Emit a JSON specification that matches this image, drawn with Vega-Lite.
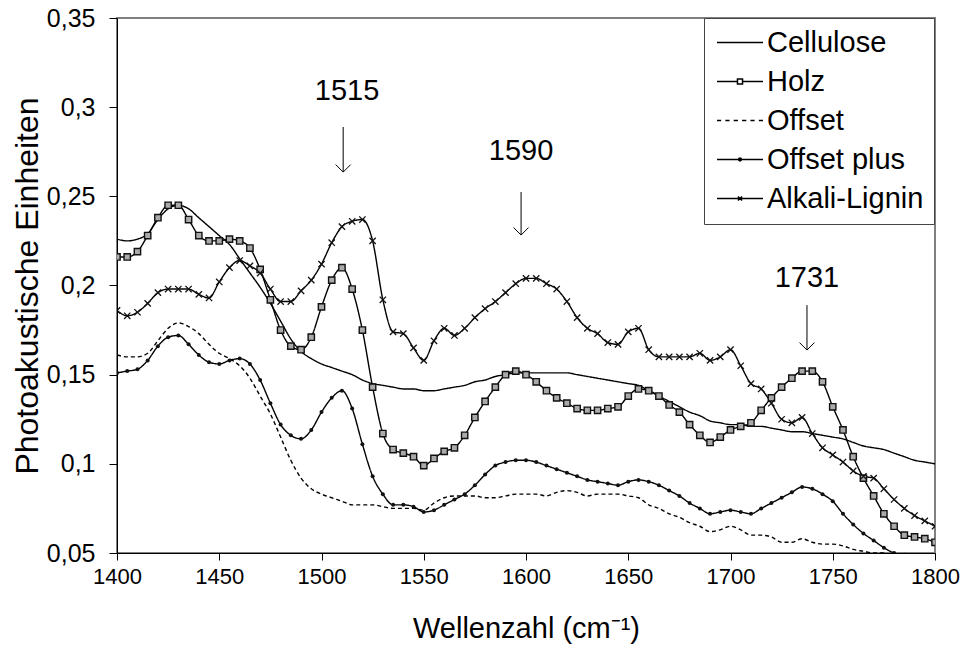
{
  "$schema": "https://vega.github.io/schema/vega-lite/v6.json",
  "width": 818,
  "height": 535,
  "autosize": {"type": "none"},
  "padding": {"left": 117, "top": 18, "right": 32, "bottom": 97},
  "background": "white",
  "config": {
    "font": "Liberation Sans",
    "view": {"stroke": "#808080", "strokeWidth": 2},
    "axis": {"grid": false, "domainColor": "black", "tickColor": "black", "labelColor": "black", "titleColor": "black", "titleFontWeight": "normal", "labelFont": "Liberation Sans", "titleFont": "Liberation Sans"}
  },
  "datasets": {
    "spec": [
      {"w":1400,"C":0.226,"H":0.216,"O":0.161,"P":0.151,"A":0.186},
      {"w":1405,"C":0.225,"H":0.216,"O":0.160,"P":0.152,"A":0.183},
      {"w":1410,"C":0.226,"H":0.219,"O":0.160,"P":0.153,"A":0.185},
      {"w":1415,"C":0.229,"H":0.228,"O":0.162,"P":0.158,"A":0.190},
      {"w":1420,"C":0.237,"H":0.238,"O":0.169,"P":0.166,"A":0.196},
      {"w":1425,"C":0.243,"H":0.245,"O":0.176,"P":0.171,"A":0.198},
      {"w":1430,"C":0.245,"H":0.245,"O":0.179,"P":0.172,"A":0.198},
      {"w":1435,"C":0.243,"H":0.237,"O":0.177,"P":0.167,"A":0.198},
      {"w":1440,"C":0.238,"H":0.228,"O":0.173,"P":0.161,"A":0.195},
      {"w":1445,"C":0.233,"H":0.225,"O":0.167,"P":0.157,"A":0.193},
      {"w":1450,"C":0.228,"H":0.225,"O":0.162,"P":0.156,"A":0.202},
      {"w":1455,"C":0.223,"H":0.226,"O":0.159,"P":0.158,"A":0.210},
      {"w":1460,"C":0.215,"H":0.225,"O":0.155,"P":0.159,"A":0.214},
      {"w":1465,"C":0.207,"H":0.221,"O":0.148,"P":0.156,"A":0.211},
      {"w":1470,"C":0.199,"H":0.209,"O":0.138,"P":0.147,"A":0.207},
      {"w":1475,"C":0.190,"H":0.192,"O":0.128,"P":0.134,"A":0.198},
      {"w":1480,"C":0.180,"H":0.175,"O":0.115,"P":0.122,"A":0.191},
      {"w":1485,"C":0.170,"H":0.166,"O":0.102,"P":0.116,"A":0.191},
      {"w":1490,"C":0.163,"H":0.164,"O":0.092,"P":0.114,"A":0.197},
      {"w":1495,"C":0.159,"H":0.171,"O":0.086,"P":0.119,"A":0.203},
      {"w":1500,"C":0.156,"H":0.188,"O":0.083,"P":0.129,"A":0.212},
      {"w":1505,"C":0.154,"H":0.203,"O":0.081,"P":0.137,"A":0.224},
      {"w":1510,"C":0.152,"H":0.210,"O":0.079,"P":0.141,"A":0.233},
      {"w":1515,"C":0.150,"H":0.198,"O":0.077,"P":0.131,"A":0.236},
      {"w":1520,"C":0.147,"H":0.175,"O":0.077,"P":0.111,"A":0.237},
      {"w":1525,"C":0.145,"H":0.143,"O":0.077,"P":0.093,"A":0.225},
      {"w":1530,"C":0.144,"H":0.117,"O":0.076,"P":0.083,"A":0.192},
      {"w":1535,"C":0.143,"H":0.108,"O":0.075,"P":0.077,"A":0.174},
      {"w":1540,"C":0.142,"H":0.106,"O":0.075,"P":0.077,"A":0.173},
      {"w":1545,"C":0.142,"H":0.104,"O":0.075,"P":0.076,"A":0.165},
      {"w":1550,"C":0.141,"H":0.099,"O":0.074,"P":0.073,"A":0.158},
      {"w":1555,"C":0.141,"H":0.103,"O":0.078,"P":0.074,"A":0.169},
      {"w":1560,"C":0.142,"H":0.107,"O":0.081,"P":0.077,"A":0.176},
      {"w":1565,"C":0.143,"H":0.109,"O":0.082,"P":0.080,"A":0.172},
      {"w":1570,"C":0.144,"H":0.116,"O":0.082,"P":0.083,"A":0.176},
      {"w":1575,"C":0.146,"H":0.126,"O":0.082,"P":0.088,"A":0.182},
      {"w":1580,"C":0.147,"H":0.135,"O":0.081,"P":0.094,"A":0.187},
      {"w":1585,"C":0.149,"H":0.143,"O":0.081,"P":0.099,"A":0.191},
      {"w":1590,"C":0.150,"H":0.150,"O":0.082,"P":0.101,"A":0.196},
      {"w":1595,"C":0.151,"H":0.152,"O":0.083,"P":0.102,"A":0.201},
      {"w":1600,"C":0.151,"H":0.150,"O":0.083,"P":0.102,"A":0.204},
      {"w":1605,"C":0.151,"H":0.146,"O":0.083,"P":0.101,"A":0.204},
      {"w":1610,"C":0.151,"H":0.141,"O":0.082,"P":0.099,"A":0.201},
      {"w":1615,"C":0.151,"H":0.137,"O":0.084,"P":0.097,"A":0.198},
      {"w":1620,"C":0.151,"H":0.134,"O":0.085,"P":0.095,"A":0.191},
      {"w":1625,"C":0.150,"H":0.131,"O":0.084,"P":0.093,"A":0.182},
      {"w":1630,"C":0.149,"H":0.130,"O":0.082,"P":0.091,"A":0.176},
      {"w":1635,"C":0.148,"H":0.130,"O":0.083,"P":0.090,"A":0.173},
      {"w":1640,"C":0.147,"H":0.131,"O":0.083,"P":0.089,"A":0.168},
      {"w":1645,"C":0.146,"H":0.132,"O":0.083,"P":0.088,"A":0.167},
      {"w":1650,"C":0.145,"H":0.138,"O":0.082,"P":0.090,"A":0.174},
      {"w":1655,"C":0.144,"H":0.142,"O":0.081,"P":0.091,"A":0.176},
      {"w":1660,"C":0.141,"H":0.141,"O":0.077,"P":0.090,"A":0.164},
      {"w":1665,"C":0.138,"H":0.138,"O":0.075,"P":0.088,"A":0.160},
      {"w":1670,"C":0.135,"H":0.133,"O":0.072,"P":0.085,"A":0.160},
      {"w":1675,"C":0.132,"H":0.129,"O":0.070,"P":0.082,"A":0.160},
      {"w":1680,"C":0.129,"H":0.122,"O":0.067,"P":0.078,"A":0.160},
      {"w":1685,"C":0.127,"H":0.116,"O":0.065,"P":0.075,"A":0.162},
      {"w":1690,"C":0.124,"H":0.112,"O":0.062,"P":0.072,"A":0.158},
      {"w":1695,"C":0.123,"H":0.115,"O":0.063,"P":0.073,"A":0.160},
      {"w":1700,"C":0.122,"H":0.119,"O":0.065,"P":0.074,"A":0.164},
      {"w":1705,"C":0.122,"H":0.121,"O":0.063,"P":0.073,"A":0.155},
      {"w":1710,"C":0.121,"H":0.123,"O":0.060,"P":0.072,"A":0.145},
      {"w":1715,"C":0.121,"H":0.130,"O":0.060,"P":0.075,"A":0.142},
      {"w":1720,"C":0.120,"H":0.137,"O":0.059,"P":0.078,"A":0.134},
      {"w":1725,"C":0.119,"H":0.143,"O":0.056,"P":0.081,"A":0.125},
      {"w":1730,"C":0.118,"H":0.148,"O":0.056,"P":0.084,"A":0.123},
      {"w":1735,"C":0.118,"H":0.152,"O":0.058,"P":0.087,"A":0.126},
      {"w":1740,"C":0.117,"H":0.152,"O":0.056,"P":0.086,"A":0.117},
      {"w":1745,"C":0.116,"H":0.146,"O":0.055,"P":0.083,"A":0.109},
      {"w":1750,"C":0.115,"H":0.132,"O":0.055,"P":0.079,"A":0.105},
      {"w":1755,"C":0.114,"H":0.119,"O":0.054,"P":0.072,"A":0.101},
      {"w":1760,"C":0.112,"H":0.104,"O":0.052,"P":0.066,"A":0.096},
      {"w":1765,"C":0.110,"H":0.092,"O":0.051,"P":0.061,"A":0.093},
      {"w":1770,"C":0.109,"H":0.082,"O":0.050,"P":0.057,"A":0.092},
      {"w":1775,"C":0.108,"H":0.072,"O":0.050,"P":0.053,"A":0.086},
      {"w":1780,"C":0.106,"H":0.065,"O":0.049,"P":0.050,"A":0.080},
      {"w":1785,"C":0.104,"H":0.060,"O":0.049,"P":0.049,"A":0.075},
      {"w":1790,"C":0.102,"H":0.059,"O":0.049,"P":0.048,"A":0.071},
      {"w":1795,"C":0.101,"H":0.058,"O":0.049,"P":0.048,"A":0.068},
      {"w":1800,"C":0.100,"H":0.056,"O":0.049,"P":0.048,"A":0.065}
    ],
    "arrows": [
      {"w":1510.6,"v":0.2636,"v2":0.2889},
      {"w":1597.6,"v":0.2283,"v2":0.2524},
      {"w":1737.4,"v":0.1638,"v2":0.189}
    ],
    "labels": [
      {"w":1512.5,"v":0.304,"label":"1515"},
      {"w":1597.6,"v":0.2703,"label":"1590"},
      {"w":1737.4,"v":0.1991,"label":"1731"}
    ],
    "legend": [
      {"s":"Cellulose"},{"s":"Holz"},{"s":"Offset"},{"s":"Offset plus"},{"s":"Alkali-Lignin"}
    ]
  },
  "encoding": {
    "x": {"field": "w", "type": "quantitative",
      "scale": {"domain": [1400, 1800], "nice": false, "zero": false},
      "axis": {"values": [1400,1450,1500,1550,1600,1650,1700,1750,1800], "format": "d", "labelFontSize": 22, "labelPadding": 6, "tickSize": 7, "labelFlush": false,
        "title": "Wellenzahl (cm⁻¹)", "titleFontSize": 29, "titleY": 84, "titleBaseline": "alphabetic"}},
    "y": {"field": "v", "type": "quantitative",
      "scale": {"domain": [0.05, 0.35], "nice": false, "zero": false},
      "axis": {"values": [0.05,0.1,0.15,0.2,0.25,0.3,0.35], "labelExpr": "replace(format(datum.value,'.2~f'),'.',',')", "labelFontSize": 25, "labelPadding": 14, "tickSize": 8,
        "title": "Photoakustische Einheiten", "titleFontSize": 32, "titleX": -80, "titleBaseline": "alphabetic"}}
  },
  "layer": [
    {
      "data": {"name": "spec"},
      "transform": [{"fold": ["C","H","O","P","A"], "as": ["s","v"]}],
      "mark": {"type": "line", "interpolate": "monotone", "clip": true, "color": "black", "strokeWidth": 1.4},
      "encoding": {
        "detail": {"field": "s", "type": "nominal"},
        "strokeDash": {"field": "s", "type": "nominal", "legend": null,
          "scale": {"domain": ["C","H","O","P","A"], "range": [[1,0],[1,0],[4,3],[1,0],[1,0]]}}
      }
    },
    {
      "data": {"name": "spec"},
      "transform": [{"fold": ["H"], "as": ["s","v"]}],
      "mark": {"type": "point", "shape": "square", "size": 40, "filled": false, "fill": "#aaaaaa", "fillOpacity": 1, "stroke": "#111111", "strokeWidth": 1.4, "opacity": 1, "clip": true}
    },
    {
      "data": {"name": "spec"},
      "transform": [{"fold": ["P"], "as": ["s","v"]}],
      "mark": {"type": "point", "shape": "circle", "size": 16, "filled": true, "color": "#111111", "opacity": 1, "clip": true}
    },
    {
      "data": {"name": "spec"},
      "transform": [{"fold": ["A"], "as": ["s","v"]}],
      "mark": {"type": "point", "shape": "M-1,-1L1,1M-1,1L1,-1", "size": 40, "filled": false, "stroke": "#111111", "strokeWidth": 1.3, "opacity": 1, "clip": true}
    },
    {
      "data": {"name": "arrows"},
      "mark": {"type": "rule", "color": "black", "strokeWidth": 1},
      "encoding": {"y2": {"field": "v2"}}
    },
    {
      "data": {"name": "arrows"},
      "mark": {"type": "point", "shape": "M-1,-1L0,0L1,-1", "size": 225, "filled": false, "stroke": "black", "strokeWidth": 1, "opacity": 1}
    },
    {
      "data": {"name": "labels"},
      "mark": {"type": "text", "fontSize": 29, "align": "center", "baseline": "alphabetic", "color": "black", "font": "Liberation Sans"},
      "encoding": {"text": {"field": "label"}}
    },
    {
      "data": {"name": "legend"},
      "transform": [{"filter": "false"}],
      "mark": {"type": "point", "filled": false, "stroke": "black", "strokeWidth": 1.3, "opacity": 1},
      "encoding": {
        "x": {"datum": 1400},
        "y": {"datum": 0.1},
        "shape": {"field": "s", "type": "nominal",
          "scale": {"domain": ["Cellulose","Holz","Offset","Offset plus","Alkali-Lignin"],
            "range": [
              "M-1,0H3",
              "M-1,0H0.78M1.22,0H3M0.78,-0.22H1.22V0.22H0.78Z",
              "M-1,0H-0.64M-0.27,0H0.09M0.45,0H0.82M1.18,0H1.55M1.91,0H2.27M2.64,0H3",
              "M-1,0H3M1.12,0A0.12,0.12 0 1,1 0.88,0A0.12,0.12 0 1,1 1.12,0Z",
              "M-1,0H3M0.82,-0.18L1.18,0.18M0.82,0.18L1.18,-0.18"
            ]},
          "legend": {"orient": "none", "legendX": 587, "legendY": 0, "title": null, "padding": 10, "rowPadding": 9,
            "symbolSize": 529, "symbolOffset": 0, "labelOffset": 24, "labelFontSize": 29, "labelFont": "Liberation Sans", "labelColor": "black", "labelLimit": 400,
            "strokeColor": "#444444", "fillColor": "white",
            "encode": {"symbols": {"update": {"stroke": {"value": "black"}, "fill": {"value": "black"}, "strokeWidth": {"value": 1.3}, "opacity": {"value": 1}}}}}}
      }
    }
  ]
}
